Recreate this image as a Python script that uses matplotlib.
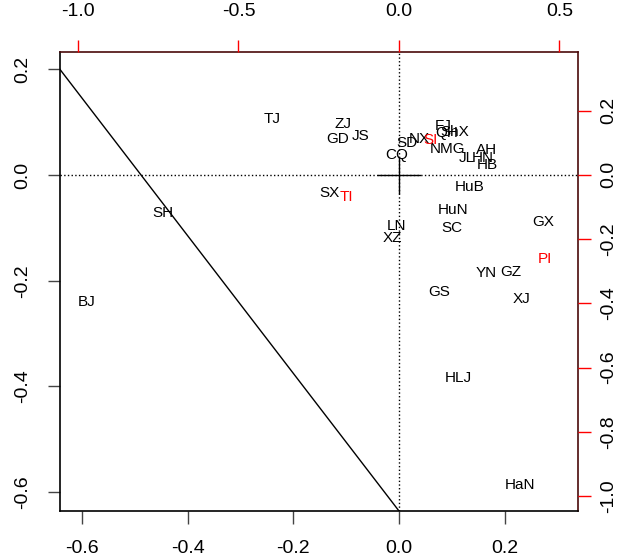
import matplotlib
matplotlib.use("Agg")
import matplotlib.pyplot as plt

plt.rcParams['font.family'] = ['Liberation Sans', 'DejaVu Sans']

# observation scores (primary axes, bottom/left)
obs_names = ['BJ', 'TJ', 'SH', 'ZJ', 'GD', 'JS', 'SD', 'CQ', 'SX', 'LN', 'XZ',
             'NX', 'FJ', 'QH', 'ShX', 'NMG', 'JL', 'HN', 'AH', 'HB',
             'HuB', 'HuN', 'SC', 'GX', 'YN', 'GZ', 'GS', 'XJ', 'HLJ', 'HaN']
obs_x = [-0.591, -0.240, -0.447, -0.106, -0.116, -0.072, 0.015, -0.004, -0.131, -0.004, -0.013,
         0.038, 0.083, 0.090, 0.106, 0.091, 0.129, 0.159, 0.165, 0.167,
         0.134, 0.102, 0.100, 0.273, 0.166, 0.212, 0.076, 0.233, 0.112, 0.229]
obs_y = [-0.241, 0.106, -0.072, 0.097, 0.068, 0.074, 0.061, 0.038, -0.034, -0.097, -0.119,
         0.068, 0.093, 0.080, 0.081, 0.049, 0.032, 0.032, 0.047, 0.019,
         -0.023, -0.066, -0.101, -0.089, -0.186, -0.184, -0.221, -0.235, -0.385, -0.587]

# variable loadings (secondary axes, top/right)
var_names = ['SI', 'TI', 'PI']
var_x = [0.100, -0.162, 0.455]
var_y = [0.109, -0.069, -0.262]

# reference line through the plot
line_x = [-0.642, 0.0]
line_y = [0.2, -0.636]

x_ticks = [-0.6, -0.4, -0.2, 0.0, 0.2]
y_ticks = [-0.6, -0.4, -0.2, 0.0, 0.2]
x2_ticks = [-1.0, -0.5, 0.0, 0.5]
y2_ticks = [-1.0, -0.8, -0.6, -0.4, -0.2, 0.0, 0.2]

fig = plt.figure(figsize=(6.22, 5.57), dpi=100)
rect = [60 / 622, 46 / 557, 518 / 622, 459 / 557]
ax = fig.add_axes(rect)

ax.set_xlim(-0.642, 0.339)
ax.set_ylim(-0.636, 0.233)

# dotted zero lines
ax.axhline(0, color='black', linestyle=':', linewidth=1)
ax.axvline(0, color='black', linestyle=':', linewidth=1)

# cross at the origin
ax.plot([-0.040, 0.040], [0, 0], color='black', linewidth=1)
ax.plot([0, 0], [-0.034, 0.034], color='black', linewidth=1)

ax.plot(line_x, line_y, color='black', linewidth=1)

for name, x, y in zip(obs_names, obs_x, obs_y):
    ax.text(x, y, name, fontsize=11, ha='center', va='center', color='black')

ax.set_xticks(x_ticks)
ax.set_xticklabels([f'{v:.1f}' for v in x_ticks])
ax.set_yticks(y_ticks)
ax.set_yticklabels([f'{v:.1f}' for v in y_ticks], rotation=90, va='center')
ax.tick_params(axis='both', labelsize=14, length=9, width=1, color='#444444', pad=12)
for side in ['left', 'bottom']:
    ax.spines[side].set_linewidth(1.2)

# secondary axes for the loadings
ax2 = fig.add_axes(rect, frameon=False)
ax2.patch.set_visible(False)
ax2.set_xlim(-1.056, 0.558)
ax2.set_ylim(-1.047, 0.383)
ax2.xaxis.tick_top()
ax2.yaxis.tick_right()
ax2.set_xticks(x2_ticks)
ax2.set_xticklabels([f'{v:.1f}' for v in x2_ticks])
ax2.set_yticks(y2_ticks)
ax2.set_yticklabels([f'{v:.1f}' for v in y2_ticks], rotation=90, va='center')
ax2.tick_params(axis='x', labelsize=14, length=9, width=1, color='red', pad=14)
ax2.tick_params(axis='y', labelsize=14, length=9, width=1, color='red', pad=7)

for name, x, y in zip(var_names, var_x, var_y):
    ax2.text(x, y, name, fontsize=11, ha='center', va='center', color='red')

for side in ['top', 'right']:
    ax.spines[side].set_color('#4a0a0a')
    ax.spines[side].set_linewidth(1.2)

fig.savefig('out.png', dpi=100)
